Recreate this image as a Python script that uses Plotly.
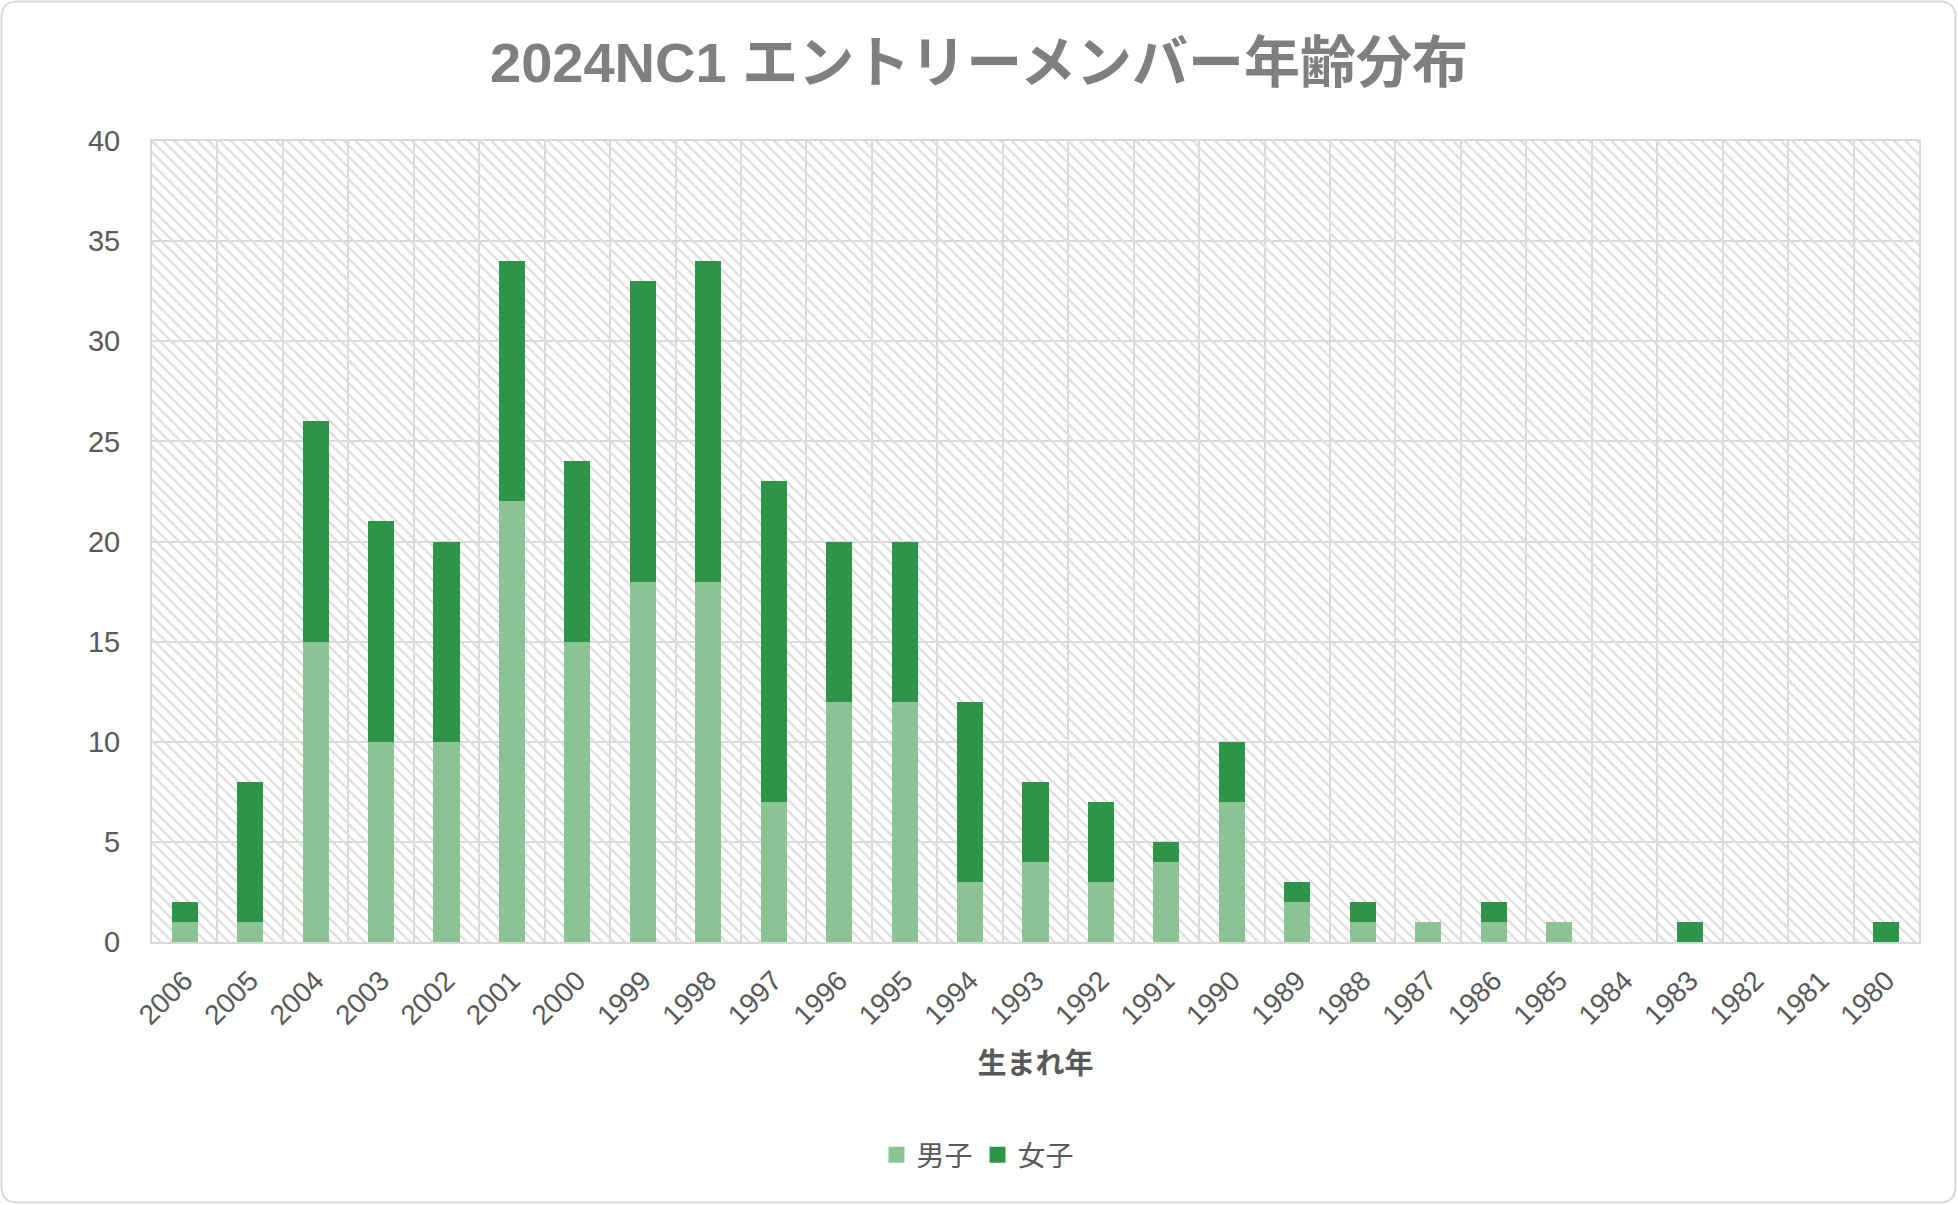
import plotly.graph_objects as go

years = ["2006", "2005", "2004", "2003", "2002", "2001", "2000", "1999", "1998",
         "1997", "1996", "1995", "1994", "1993", "1992", "1991", "1990", "1989",
         "1988", "1987", "1986", "1985", "1984", "1983", "1982", "1981", "1980"]
male = [1, 1, 15, 10, 10, 22, 15, 18, 18, 7, 12, 12, 3, 4, 3, 4, 7, 2, 1, 1, 1, 1, 0, 0, 0, 0, 0]
female = [1, 7, 11, 11, 10, 12, 9, 15, 16, 16, 8, 8, 9, 4, 4, 1, 3, 1, 1, 0, 1, 0, 0, 1, 0, 0, 1]
series_names = ["男子", "女子"]
y_max = 40
y_step = 5

W, H = 1958, 1205
L, R, T, B = 152, 1919, 141, 942
PW, PH = R - L, B - T

FONT = "Liberation Sans, Arial, Noto Sans CJK JP, sans-serif"
C_MALE = "#8cc395"
C_FEMALE = "#2e9449"
GRID = "#d9d9d9"
TXT = "#595959"

fig = go.Figure()

# hatched plot-area background (decoration)
fig.add_trace(go.Bar(
    x=[years[len(years) // 2]], y=[y_max], width=len(years),
    marker=dict(color="rgba(0,0,0,0)", line=dict(width=0),
                pattern=dict(shape="\\", fgcolor="#dedede", bgcolor="rgba(0,0,0,0)",
                             size=8, solidity=0.3, fillmode="replace")),
    hoverinfo="skip", showlegend=False, xaxis="x", yaxis="y"))

fig.add_trace(go.Bar(x=years, y=male, name=series_names[0], marker=dict(color=C_MALE, line=dict(width=0)),
                     xaxis="x2", yaxis="y2", showlegend=False))
fig.add_trace(go.Bar(x=years, y=female, name=series_names[1], marker=dict(color=C_FEMALE, line=dict(width=0)),
                     xaxis="x2", yaxis="y2", showlegend=False))

# legend entries (square swatches)
for nm, col in zip(series_names, [C_MALE, C_FEMALE]):
    fig.add_trace(go.Scatter(x=[None], y=[None], mode="markers", name=nm,
                             marker=dict(symbol="square", size=16, color=col),
                             xaxis="x2", yaxis="y2", showlegend=True))


def px2paper_x(px):
    return (px - L) / PW


def px2paper_y(py):
    return (B - py) / PH


# rounded chart border
x0, x1, y0, y1, r = 1.5, W - 2.5, 1.5, H - 2.5, 16
def P(px, py):
    return f"{px2paper_x(px):.5f},{px2paper_y(py):.5f}"
path = (f"M {P(x0 + r, y0)} L {P(x1 - r, y0)} Q {P(x1, y0)} {P(x1, y0 + r)} "
        f"L {P(x1, y1 - r)} Q {P(x1, y1)} {P(x1 - r, y1)} "
        f"L {P(x0 + r, y1)} Q {P(x0, y1)} {P(x0, y1 - r)} "
        f"L {P(x0, y0 + r)} Q {P(x0, y0)} {P(x0 + r, y0)} Z")

fig.update_layout(
    width=W, height=H,
    margin=dict(l=L, r=W - R, t=T, b=H - B),
    paper_bgcolor="white", plot_bgcolor="white",
    barmode="stack", bargap=0.6,
    font=dict(family=FONT, color=TXT, size=28),
    title=dict(text="<b>2024NC1 エントリーメンバー年齢分布</b>", x=0.5, xref="container",
               xanchor="center", y=1 - 62 / H, yref="container", yanchor="middle",
               font=dict(size=56, color="#7f7f7f", family=FONT)),
    xaxis=dict(type="category", categoryorder="array", categoryarray=years,
               range=[-0.5, len(years) - 0.5], tickson="boundaries",
               showgrid=True, gridcolor=GRID, gridwidth=2,
               showline=True, linecolor=GRID, linewidth=2, mirror=True,
               ticks="", tickangle=-45, ticklabelstandoff=9,
               tickfont=dict(size=28, color=TXT),
               title=dict(text="<b>生まれ年</b>", font=dict(size=29, color=TXT), standoff=24)),
    yaxis=dict(range=[0, y_max], dtick=y_step, showgrid=True, gridcolor=GRID, gridwidth=2,
               zeroline=False, showline=True, linecolor=GRID, linewidth=2, mirror=True,
               ticks="", ticklabelstandoff=24, tickfont=dict(size=29, color=TXT)),
    xaxis2=dict(type="category", categoryorder="array", categoryarray=years,
                range=[-0.5, len(years) - 0.5], overlaying="x", visible=False),
    yaxis2=dict(range=[0, y_max], overlaying="y", visible=False),
    legend=dict(orientation="h", x=px2paper_x(978), xanchor="center", traceorder="normal",
                y=px2paper_y(1155), yanchor="middle", font=dict(size=28, color=TXT),
                itemwidth=30, tracegroupgap=0),
    shapes=[dict(type="path", path=path, xref="paper", yref="paper",
                 line=dict(color=GRID, width=2), fillcolor="rgba(0,0,0,0)", layer="below")],
    showlegend=True,
)

fig.write_html("out.html", config={"displayModeBar": False},
               post_script="document.body.style.margin='0';document.body.style.overflow='hidden';")
